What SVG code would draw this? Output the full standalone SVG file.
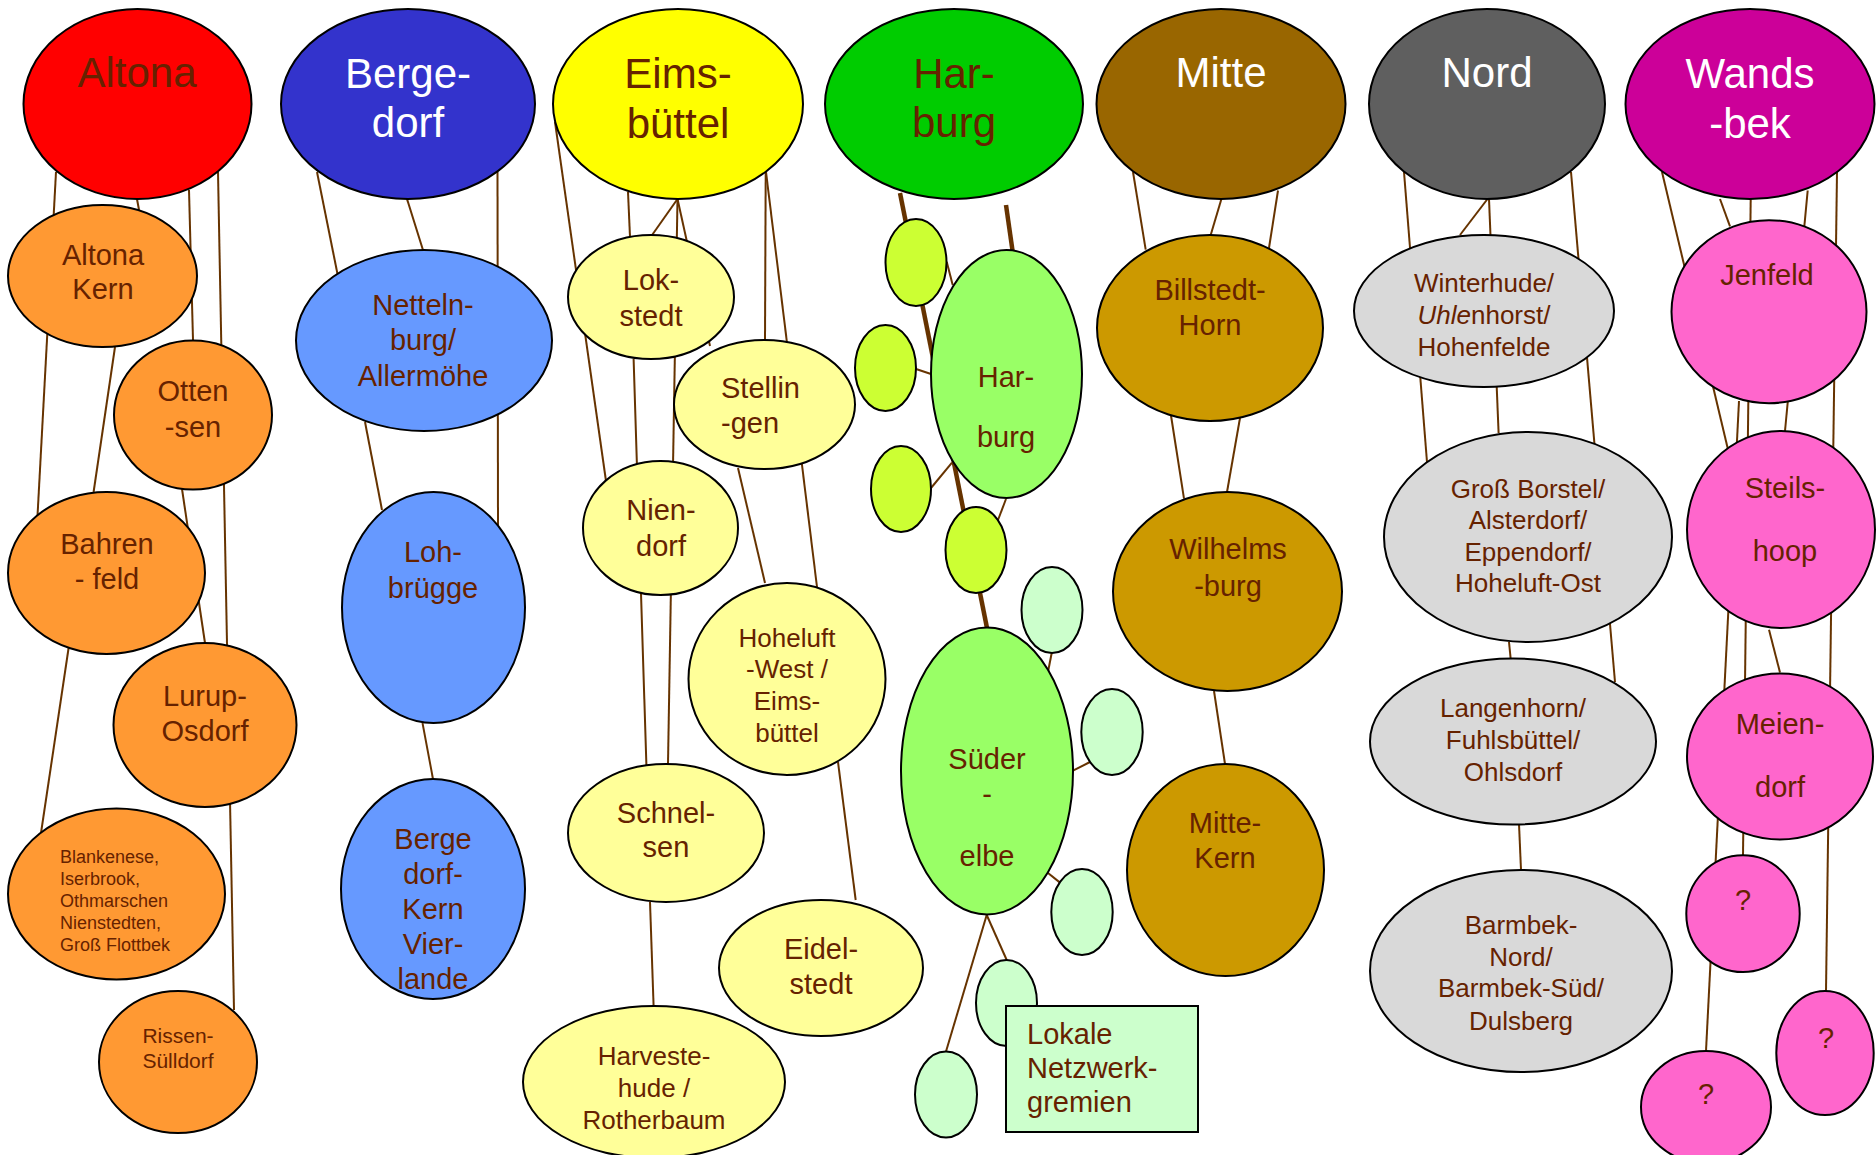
<svg xmlns="http://www.w3.org/2000/svg" width="1876" height="1155" viewBox="0 0 1876 1155">
<style>
text{font-family:"Liberation Sans",Arial,sans-serif;fill:#662200;text-anchor:middle}
.n ellipse,.n rect{stroke:#000;stroke-width:2}
.top{font-size:42px}
.w{fill:#fff}
.m{font-size:29px}
.s{font-size:26px}
.l{text-anchor:start}
.con line{stroke:#663300;stroke-width:2;stroke-linecap:butt}
.con line.t{stroke-width:4.5}
.or{fill:#FF9933}.bl{fill:#6699FF}.ly{fill:#FFFF99}.yg{fill:#CCFF33}.lg{fill:#99FF66}.pg{fill:#CCFFCC}.go{fill:#CC9900}.gr{fill:#D9D9D9}.pk{fill:#FF66CC}
</style>
<rect width="1876" height="1155" fill="#fff"/>
<g id="connectors" class="con">
<line x1="56" y1="172" x2="37.5" y2="516"/>
<line x1="137" y1="199" x2="139" y2="210"/>
<line x1="189" y1="190" x2="193" y2="340"/>
<line x1="218" y1="172" x2="234" y2="1010"/>
<line x1="115" y1="347" x2="93.6" y2="492"/>
<line x1="182" y1="489" x2="205" y2="643"/>
<line x1="68.6" y1="648" x2="41" y2="833"/>
<line x1="317" y1="172" x2="337.5" y2="274"/>
<line x1="407" y1="199" x2="423" y2="250"/>
<line x1="497.5" y1="172" x2="498" y2="525"/>
<line x1="365" y1="422" x2="382" y2="510"/>
<line x1="422.5" y1="723" x2="433" y2="779"/>
<line x1="555" y1="122" x2="606" y2="481"/>
<line x1="628" y1="192" x2="630" y2="237"/>
<line x1="677.5" y1="199" x2="651.4" y2="236"/>
<line x1="677.5" y1="199" x2="710" y2="346"/>
<line x1="677.5" y1="199" x2="668" y2="764"/>
<line x1="633.6" y1="359" x2="646.4" y2="765"/>
<line x1="765.7" y1="172" x2="765" y2="340"/>
<line x1="766" y1="172" x2="817" y2="587"/>
<line x1="738" y1="468" x2="765" y2="583"/>
<line x1="838" y1="762" x2="855.7" y2="900"/>
<line x1="650" y1="902" x2="653.6" y2="1006"/>
<line class="t" x1="900" y1="193" x2="987" y2="628"/>
<line class="t" x1="1006" y1="205" x2="1013" y2="254"/>
<line x1="946.7" y1="261.7" x2="952.7" y2="285"/>
<line x1="916" y1="369" x2="931" y2="374"/>
<line x1="931" y1="488" x2="952" y2="462.7"/>
<line x1="998" y1="520" x2="1006" y2="499"/>
<line x1="1051.7" y1="653" x2="1048" y2="671.7"/>
<line x1="1073" y1="770.6" x2="1090" y2="762"/>
<line x1="1048" y1="873" x2="1060" y2="882.6"/>
<line x1="986.7" y1="915" x2="1006.7" y2="960"/>
<line x1="986.7" y1="915" x2="946" y2="1051.5"/>
<line x1="1133" y1="172" x2="1145.7" y2="249.7"/>
<line x1="1221.4" y1="199" x2="1210.7" y2="235"/>
<line x1="1278" y1="190.5" x2="1269" y2="248"/>
<line x1="1171" y1="415.5" x2="1184" y2="498.7"/>
<line x1="1240" y1="418" x2="1227" y2="492"/>
<line x1="1214" y1="691" x2="1225" y2="764"/>
<line x1="1404" y1="172" x2="1427" y2="462"/>
<line x1="1489" y1="199" x2="1498.6" y2="433"/>
<line x1="1487.5" y1="199" x2="1460" y2="235"/>
<line x1="1571" y1="172" x2="1615" y2="682"/>
<line x1="1509" y1="642" x2="1510.7" y2="659"/>
<line x1="1519" y1="824" x2="1521" y2="870"/>
<line x1="1662" y1="172" x2="1728" y2="449.5"/>
<line x1="1720" y1="199" x2="1730" y2="226.4"/>
<line x1="1750.7" y1="199" x2="1743" y2="855"/>
<line x1="1807.7" y1="190.5" x2="1785" y2="431"/>
<line x1="1837" y1="172" x2="1826" y2="991"/>
<line x1="1739" y1="401" x2="1706" y2="1051"/>
<line x1="1769" y1="629.7" x2="1780" y2="672.6"/>
</g>
<g id="altona" class="n"><ellipse cx="137.5" cy="104" rx="114" ry="95" fill="#FF0000"/><text class="top" x="137" y="87">Altona</text></g>
<g id="bergedorf" class="n"><ellipse cx="408" cy="104" rx="127" ry="95" fill="#3333CC"/><text class="top w" x="408" y="88">Berge-</text><text class="top w" x="408" y="137">dorf</text></g>
<g id="eimsbuettel" class="n"><ellipse cx="678" cy="104" rx="125" ry="95" fill="#FFFF00"/><text class="top" x="678" y="88">Eims-</text><text class="top" x="678" y="138">büttel</text></g>
<g id="harburg" class="n"><ellipse cx="954" cy="104" rx="129" ry="95" fill="#00CC00"/><text class="top" x="954" y="88">Har-</text><text class="top" x="954" y="137">burg</text></g>
<g id="mitte" class="n"><ellipse cx="1221" cy="104" rx="124.5" ry="95" fill="#996600"/><text class="top w" x="1221" y="87">Mitte</text></g>
<g id="nord" class="n"><ellipse cx="1487" cy="104" rx="118" ry="95" fill="#5F5F5F"/><text class="top w" x="1487" y="87">Nord</text></g>
<g id="wandsbek" class="n"><ellipse cx="1750" cy="104" rx="124.5" ry="95" fill="#CC0099"/><text class="top w" x="1750" y="88">Wands</text><text class="top w" x="1750" y="138">-bek</text></g>

<g id="altona-kern" class="n"><ellipse class="or" cx="102.5" cy="276" rx="94.5" ry="71"/><text class="m" x="103" y="265">Altona</text><text class="m" x="103" y="299">Kern</text></g>
<g id="ottensen" class="n"><ellipse class="or" cx="193" cy="415" rx="79" ry="74.5"/><text class="m" x="193" y="401">Otten</text><text class="m" x="193" y="437">-sen</text></g>
<g id="bahrenfeld" class="n"><ellipse class="or" cx="106.5" cy="573" rx="98.5" ry="81"/><text class="m" x="107" y="554">Bahren</text><text class="m" x="107" y="589">- feld</text></g>
<g id="lurup-osdorf" class="n"><ellipse class="or" cx="205" cy="725" rx="91.5" ry="82"/><text class="m" x="205" y="706">Lurup-</text><text class="m" x="205" y="741">Osdorf</text></g>
<g id="blankenese" class="n"><ellipse class="or" cx="116.5" cy="894" rx="108.5" ry="85.5"/><text class="l" font-size="18" x="60" y="863">Blankenese,</text><text class="l" font-size="18" x="60" y="885">Iserbrook,</text><text class="l" font-size="18" x="60" y="907">Othmarschen</text><text class="l" font-size="18" x="60" y="929">Nienstedten,</text><text class="l" font-size="18" x="60" y="951">Groß Flottbek</text></g>
<g id="rissen-suelldorf" class="n"><ellipse class="or" cx="178" cy="1062" rx="79" ry="71"/><text font-size="21" x="178" y="1043">Rissen-</text><text font-size="21" x="178" y="1068">Sülldorf</text></g>

<g id="nettelnburg" class="n"><ellipse class="bl" cx="424" cy="340.5" rx="128" ry="90.5"/><text class="m" x="423" y="315">Netteln-</text><text class="m" x="423" y="350">burg/</text><text class="m" x="423" y="386">Allermöhe</text></g>
<g id="lohbruegge" class="n"><ellipse class="bl" cx="433.5" cy="607.5" rx="91.5" ry="115.5"/><text class="m" x="433" y="562">Loh-</text><text class="m" x="433" y="598">brügge</text></g>
<g id="bergedorf-kern" class="n"><ellipse class="bl" cx="433" cy="889" rx="92" ry="110"/><text class="m" x="433" y="849">Berge</text><text class="m" x="433" y="884">dorf-</text><text class="m" x="433" y="919">Kern</text><text class="m" x="433" y="954">Vier-</text><text class="m" x="433" y="989">lande</text></g>

<g id="lokstedt" class="n"><ellipse class="ly" cx="651" cy="297" rx="83" ry="62"/><text class="m" x="651" y="290">Lok-</text><text class="m" x="651" y="326">stedt</text></g>
<g id="stellingen" class="n"><ellipse class="ly" cx="764.5" cy="404.5" rx="90.5" ry="64.5"/><text class="m l" x="721" y="398">Stellin</text><text class="m l" x="721" y="433">-gen</text></g>
<g id="niendorf" class="n"><ellipse class="ly" cx="660.5" cy="528" rx="77.5" ry="67"/><text class="m" x="661" y="520">Nien-</text><text class="m" x="661" y="556">dorf</text></g>
<g id="hoheluft-west" class="n"><ellipse class="ly" cx="787" cy="679" rx="98.5" ry="96"/><text class="s" x="787" y="647">Hoheluft</text><text class="s" x="787" y="678">-West /</text><text class="s" x="787" y="710">Eims-</text><text class="s" x="787" y="742">büttel</text></g>
<g id="schnelsen" class="n"><ellipse class="ly" cx="666" cy="833" rx="98" ry="69"/><text class="m" x="666" y="823">Schnel-</text><text class="m" x="666" y="857">sen</text></g>
<g id="eidelstedt" class="n"><ellipse class="ly" cx="821" cy="968" rx="102" ry="68"/><text class="m" x="821" y="959">Eidel-</text><text class="m" x="821" y="994">stedt</text></g>
<g id="harvestehude" class="n"><ellipse class="ly" cx="654" cy="1082" rx="131" ry="76"/><text class="s" x="654" y="1065">Harveste-</text><text class="s" x="654" y="1097">hude /</text><text class="s" x="654" y="1129">Rotherbaum</text></g>

<g id="harburg-a" class="n"><ellipse class="yg" cx="916" cy="262.5" rx="30.5" ry="43.5"/></g>
<g id="harburg-b" class="n"><ellipse class="yg" cx="885.5" cy="368" rx="30.5" ry="43"/></g>
<g id="harburg-c" class="n"><ellipse class="yg" cx="901" cy="489" rx="30" ry="43"/></g>
<g id="harburg-d" class="n"><ellipse class="yg" cx="976" cy="550" rx="30.5" ry="43"/></g>
<g id="harburg-sub" class="n"><ellipse class="lg" cx="1006.5" cy="374" rx="75.5" ry="124"/><text class="m" x="1006" y="387">Har-</text><text class="m" x="1006" y="447">burg</text></g>
<g id="suederelbe" class="n"><ellipse class="lg" cx="987" cy="771" rx="86" ry="143.5"/><text class="m" x="987" y="769">Süder</text><text class="m" x="987" y="804">-</text><text class="m" x="987" y="866">elbe</text></g>
<g id="netz-e" class="n"><ellipse class="pg" cx="1052" cy="610" rx="30.5" ry="43"/></g>
<g id="netz-f" class="n"><ellipse class="pg" cx="1112" cy="732" rx="30.7" ry="43"/></g>
<g id="netz-g" class="n"><ellipse class="pg" cx="1082" cy="912" rx="30.7" ry="43"/></g>
<g id="netz-h" class="n"><ellipse class="pg" cx="1006.5" cy="1003" rx="30.5" ry="43"/></g>
<g id="netz-i" class="n"><ellipse class="pg" cx="946" cy="1094.5" rx="31" ry="43"/></g>
<g id="legend" class="n"><rect class="pg" x="1006" y="1006" width="192" height="126"/><text class="m l" x="1027" y="1044">Lokale</text><text class="m l" x="1027" y="1078">Netzwerk-</text><text class="m l" x="1027" y="1112">gremien</text></g>

<g id="billstedt-horn" class="n"><ellipse class="go" cx="1210" cy="328" rx="113" ry="93"/><text class="m" x="1210" y="300">Billstedt-</text><text class="m" x="1210" y="335">Horn</text></g>
<g id="wilhelmsburg" class="n"><ellipse class="go" cx="1227.5" cy="591.5" rx="114.5" ry="99.5"/><text class="m" x="1228" y="559">Wilhelms</text><text class="m" x="1228" y="596">-burg</text></g>
<g id="mitte-kern" class="n"><ellipse class="go" cx="1225.5" cy="870" rx="98.5" ry="106"/><text class="m" x="1225" y="833">Mitte-</text><text class="m" x="1225" y="868">Kern</text></g>

<g id="winterhude" class="n"><ellipse class="gr" cx="1484" cy="311" rx="130" ry="76"/><text class="s" x="1484" y="292">Winterhude/</text><text class="s" x="1484" y="324"><tspan font-style="italic">Uhle</tspan>nhorst/</text><text class="s" x="1484" y="356">Hohenfelde</text></g>
<g id="gross-borstel" class="n"><ellipse class="gr" cx="1528" cy="537" rx="144" ry="105"/><text class="s" x="1528" y="498">Groß Borstel/</text><text class="s" x="1528" y="529">Alsterdorf/</text><text class="s" x="1528" y="561">Eppendorf/</text><text class="s" x="1528" y="592">Hoheluft-Ost</text></g>
<g id="langenhorn" class="n"><ellipse class="gr" cx="1513" cy="741.5" rx="143" ry="83"/><text class="s" x="1513" y="717">Langenhorn/</text><text class="s" x="1513" y="749">Fuhlsbüttel/</text><text class="s" x="1513" y="781">Ohlsdorf</text></g>
<g id="barmbek" class="n"><ellipse class="gr" cx="1521" cy="971" rx="151" ry="101"/><text class="s" x="1521" y="934">Barmbek-</text><text class="s" x="1521" y="966">Nord/</text><text class="s" x="1521" y="997">Barmbek-Süd/</text><text class="s" x="1521" y="1030">Dulsberg</text></g>

<g id="jenfeld" class="n"><ellipse class="pk" cx="1769" cy="311.7" rx="97.5" ry="91.5"/><text class="m" x="1767" y="285">Jenfeld</text></g>
<g id="steilshoop" class="n"><ellipse class="pk" cx="1781" cy="529.5" rx="94" ry="98.5"/><text class="m" x="1785" y="498">Steils-</text><text class="m" x="1785" y="561">hoop</text></g>
<g id="meiendorf" class="n"><ellipse class="pk" cx="1780" cy="756.5" rx="93" ry="83"/><text class="m" x="1780" y="734">Meien-</text><text class="m" x="1780" y="797">dorf</text></g>
<g id="unknown-1" class="n"><ellipse class="pk" cx="1743" cy="913.7" rx="56.7" ry="58.4"/><text class="m" x="1743" y="910">?</text></g>
<g id="unknown-2" class="n"><ellipse class="pk" cx="1825" cy="1053" rx="48.7" ry="62"/><text class="m" x="1826" y="1048">?</text></g>
<g id="unknown-3" class="n"><ellipse class="pk" cx="1706" cy="1107" rx="65" ry="56"/><text class="m" x="1706" y="1104">?</text></g>
</svg>
